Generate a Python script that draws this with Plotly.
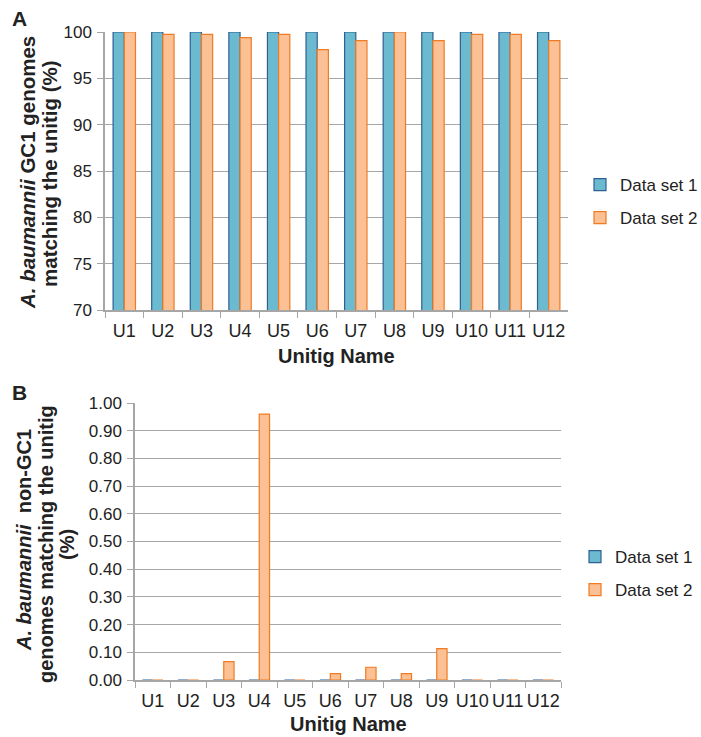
import plotly.graph_objects as go

categories = ["U1", "U2", "U3", "U4", "U5", "U6", "U7", "U8", "U9", "U10", "U11", "U12"]
a_set1 = [100, 100, 100, 100, 100, 100, 100, 100, 100, 100, 100, 100]
a_set2 = [100, 99.75, 99.75, 99.4, 99.75, 98.1, 99.06, 100, 99.06, 99.75, 99.75, 99.06]
b_set1 = [0, 0, 0, 0, 0, 0, 0, 0, 0, 0, 0, 0]
b_set2 = [0, 0, 0.066, 0.96, 0, 0.023, 0.046, 0.023, 0.113, 0, 0, 0]
a_ticks = [70, 75, 80, 85, 90, 95, 100]
b_ticks = [0.0, 0.1, 0.2, 0.3, 0.4, 0.5, 0.6, 0.7, 0.8, 0.9, 1.0]

W, H = 701, 737
BLUE_F, BLUE_L = "#6cbad0", "#2f5f93"
ORNG_F, ORNG_L = "#fbc093", "#f07b24"
GRID = "#a6a6a6"
FONT = "Liberation Sans, Arial, sans-serif"

def px(x): return x / W
def py(y): return 1 - y / H

fig = go.Figure()
fig.add_trace(go.Bar(x=categories, y=a_set1, name="Data set 1", xaxis="x", yaxis="y",
                     marker=dict(color=BLUE_F, line=dict(color=BLUE_L, width=1.2)), legend="legend"))
fig.add_trace(go.Bar(x=categories, y=a_set2, name="Data set 2", xaxis="x", yaxis="y",
                     marker=dict(color=ORNG_F, line=dict(color=ORNG_L, width=1.2)), legend="legend2"))
fig.add_trace(go.Bar(x=categories, y=b_set1, name="Data set 1", xaxis="x2", yaxis="y2",
                     marker=dict(color=BLUE_F, line=dict(color=BLUE_L, width=1.2)), legend="legend3"))
fig.add_trace(go.Bar(x=categories, y=b_set2, name="Data set 2", xaxis="x2", yaxis="y2",
                     marker=dict(color=ORNG_F, line=dict(color=ORNG_L, width=1.2)), legend="legend4"))

xcommon = dict(type="category", showline=True, linecolor=GRID, linewidth=1.6,
               ticks="outside", tickson="boundaries", ticklen=6, tickcolor=GRID,
               showgrid=False, tickangle=0, automargin=False, layer="above traces",
               tickfont=dict(size=18, color="#222"), fixedrange=True, ticklabelstandoff=4)
ycommon = dict(showline=True, linecolor=GRID, linewidth=1.5, ticks="outside", ticklen=6,
               tickcolor=GRID, showgrid=True, gridcolor=GRID, gridwidth=1.2, automargin=False,
               tickfont=dict(size=17, color="#222"), zeroline=False, ticklabelstandoff=2)

leg = dict(font=dict(size=17, color="#222", family=FONT), bgcolor="rgba(0,0,0,0)",
           xanchor="left", yanchor="middle", itemwidth=30)

fig.update_layout(
    template="none",
    width=W, height=H, margin=dict(l=0, r=0, t=0, b=0, autoexpand=False),
    paper_bgcolor="white", plot_bgcolor="white",
    font=dict(family=FONT, color="#222"),
    barmode="group", bargap=0.42, bargroupgap=0,
    xaxis=dict(xcommon, domain=[px(105), px(568)], anchor="y"),
    yaxis=dict(ycommon, domain=[py(310), py(32)], range=[70, 100], tickvals=a_ticks, anchor="x"),
    xaxis2=dict(xcommon, domain=[px(135), px(561)], anchor="y2"),
    yaxis2=dict(ycommon, domain=[py(680), py(403)], range=[0, 1], tickvals=b_ticks,
                tickformat=".2f", anchor="x2"),
    legend=dict(leg, x=px(580), y=py(185)),
    legend2=dict(leg, x=px(580), y=py(218)),
    legend3=dict(leg, x=px(575), y=py(557)),
    legend4=dict(leg, x=px(575), y=py(590)),
    showlegend=True,
)

ann = [
    dict(text="<b>A</b>", x=px(10), y=py(18), xanchor="left", yanchor="middle", font=dict(size=21)),
    dict(text="<b>B</b>", x=px(10), y=py(392), xanchor="left", yanchor="middle", font=dict(size=21)),
    dict(text="<b>Unitig Name</b>", x=px(336), y=py(356), xanchor="center", yanchor="middle", font=dict(size=20)),
    dict(text="<b>Unitig Name</b>", x=px(348), y=py(724), xanchor="center", yanchor="middle", font=dict(size=20)),
    dict(text="<b><i>A. baumannii</i> GC1 genomes</b>", x=px(28), y=py(173),
         xanchor="center", yanchor="middle", textangle=-90, font=dict(size=20.5)),
    dict(text="<b>matching the unitig (%)</b>", x=px(49), y=py(174),
         xanchor="center", yanchor="middle", textangle=-90, font=dict(size=20.5)),
    dict(text="<b><i>A. baumannii</i>  non-GC1</b>", x=px(24), y=py(540),
         xanchor="center", yanchor="middle", textangle=-90, font=dict(size=20)),
    dict(text="<b>genomes matching the unitig</b>", x=px(46), y=py(544),
         xanchor="center", yanchor="middle", textangle=-90, font=dict(size=20)),
    dict(text="<b>(%)</b>", x=px(67), y=py(545),
         xanchor="center", yanchor="middle", textangle=-90, font=dict(size=20)),
]
for a in ann:
    a.update(xref="paper", yref="paper", showarrow=False)
    a["font"].update(color="#222", family=FONT)
fig.update_layout(annotations=ann)

fig.write_html("out.html", config={"displayModeBar": False},
               post_script="document.body.style.margin='0';document.body.style.overflow='hidden';")
